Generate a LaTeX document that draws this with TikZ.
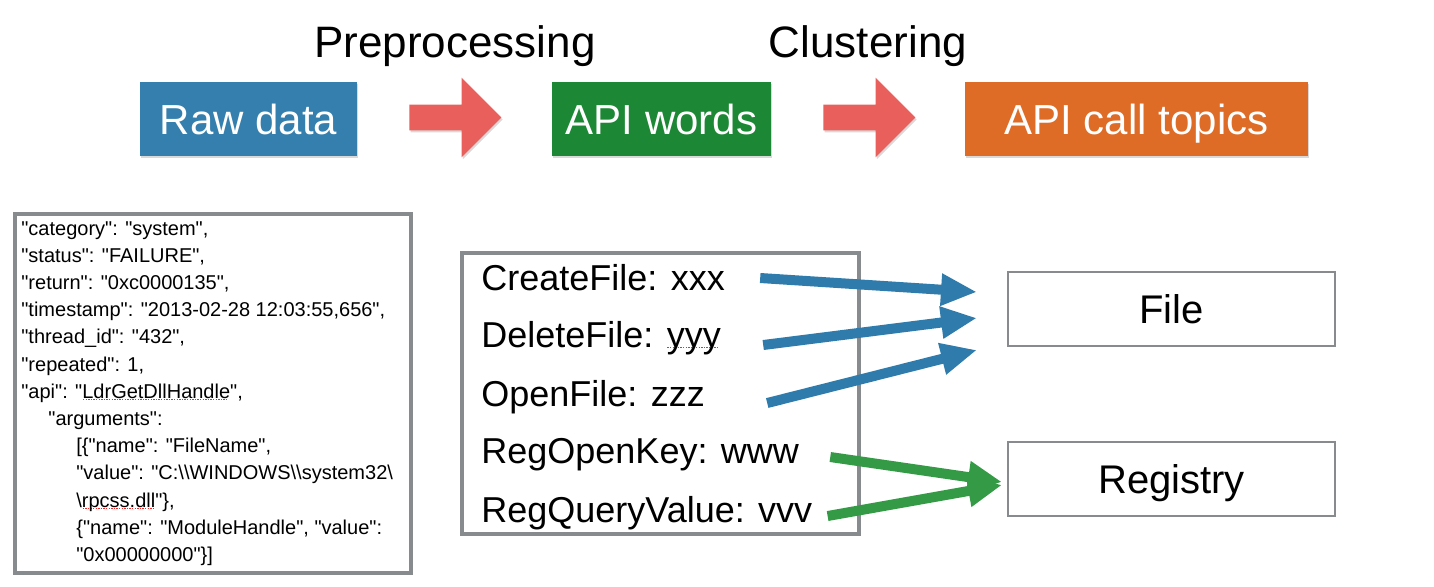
\documentclass[tikz,border=0pt]{standalone}
\usepackage{fontspec}
\setmainfont{Liberation Sans}
\newfontfamily\plainfont{Liberation Sans}
\usetikzlibrary{positioning,arrows.meta,shapes.arrows,shadows}

\definecolor{rawblue}{HTML}{347FAD}
\definecolor{wordgreen}{HTML}{1C8734}
\definecolor{topicorange}{HTML}{DE6C26}
\definecolor{stepred}{HTML}{E85F5C}
\definecolor{linkblue}{HTML}{2F7BAB}
\definecolor{linkgreen}{HTML}{349A45}
\definecolor{framegray}{HTML}{888B8D}

% dotted red spell-check mark under a word
\newsavebox\spellbox
\newcommand\spellmark[2][-1.4pt]{\sbox\spellbox{#2}\rlap{\raisebox{#1}{\textcolor{red!85}{\hbox to \wd\spellbox{\leaders\hbox to 1.3pt{\hss\rule{0.65pt}{0.5pt}\hss}\hfill}}}}\usebox\spellbox}

\begin{document}
\begin{tikzpicture}[x=0.5pt,y=-0.5pt,
  stage/.style={rectangle,inner sep=0,minimum width=#1,minimum height=37pt,text=white,
    text height=15.1pt,text depth=0pt,font=\fontsize{21}{25}\selectfont,
    drop shadow={opacity=.3,shadow xshift=.6pt,shadow yshift=-1pt}},
  stepper/.style={single arrow,fill=stepred,inner sep=6.25pt,minimum height=46pt,
    single arrow head extend=13.5pt,drop shadow={opacity=.3,shadow xshift=.6pt,shadow yshift=-1pt}},
  panel/.style={draw=framegray,line width=2pt,inner sep=0},
  topic/.style={draw=framegray,line width=1pt,minimum width=163.5pt,minimum height=37pt,
    text height=14.4pt,text depth=0pt,font=\fontsize{20}{24}\selectfont},
  apiline/.style={anchor=west,inner sep=0,font=\fontsize{18}{22}\selectfont},
  tofile/.style={draw=linkblue,line width=5pt,-{Triangle[length=18pt,width=15pt]}},
  toreg/.style={draw=linkgreen,line width=5pt,-{Triangle[length=17pt,width=15pt]}}]
  \useasboundingbox (0,0) rectangle (1434,586);

  % pipeline
  \node[stage=108.5pt,fill=rawblue] (raw) at (248.5,119) {Raw data};
  \node[stage=109.5pt,fill=wordgreen] (words) at (661.5,119) {API words};
  \node[stage=171.5pt,fill=topicorange] (topics) at (1136.5,119) {API call topics};
  \node[stepper] (pre) at (449,117.5) {};
  \node[stepper] (clu) at (863,117.5) {};
  \node[font=\fontsize{22}{26}\selectfont] (prelab) at (455,46) {Preprocessing};
  \node[font=\fontsize{22}{26}\selectfont] (clulab) at (868,46) {Clustering};

  % raw log record
  \node[panel,minimum width=198pt,minimum height=179.5pt] (json) at (213,393) {};
  \node[anchor=north west,inner sep=0,align=left,font=\plainfont\fontsize{10}{13.6}\selectfont] (record) at (21,221) {%
    "category": "system",\\
    "status": "FAILURE",\\
    "return": "0xc0000135",\\
    "timestamp": "2013-02-28 12:03:55,656",\\
    "thread\_id": "432",\\
    "repeated": 1,\\
    "api": "\spellmark[-1pt]{LdrGetDllHandle}",\\
    \hspace*{13.5pt}"arguments":\\
    \hspace*{27.5pt}[\{"name": "FileName",\\
    \hspace*{27.5pt}"value": "C:\textbackslash\textbackslash WINDOWS\textbackslash\textbackslash system32\textbackslash\\
    \hspace*{27.5pt}\textbackslash\spellmark[-1pt]{rpcss.dll}"\},\\
    \hspace*{27.5pt}\{"name": "ModuleHandle", "value":\\
    \hspace*{27.5pt}"0x00000000"\}]};

  % API words
  \node[panel,minimum width=198.5pt,minimum height=140.5pt] (list) at (660.5,393.5) {};
  \node[apiline] (cf) at (481,278) {CreateFile: xxx};
  \node[apiline] (df) at (481,338) {DeleteFile: \spellmark[-0.5pt]{yyy}};
  \node[apiline] (of) at (481,397) {OpenFile: zzz};
  \node[apiline] (rok) at (481,455) {RegOpenKey: www};
  \node[apiline] (rqv) at (481,513) {RegQueryValue: vvv};

  % topics
  \node[topic] (file) at (1171.5,309) {File};
  \node[topic] (reg) at (1171.5,479) {Registry};

  \draw[tofile] ([xshift=17.5pt]cf.east) -- ([xshift=-15pt,yshift=8.5pt]file.west);
  \draw[tofile] ([xshift=21pt,yshift=-3.5pt]df.east) -- ([xshift=-15pt,yshift=-4.5pt]file.west);
  \draw[tofile] ([xshift=31pt,yshift=-3pt]of.east) -- ([xshift=-15pt,yshift=-20.5pt]file.west);
  \draw[toreg] ([xshift=15.5pt,yshift=-1pt]rok.east) -- ([xshift=-2.5pt,yshift=-1.5pt]reg.west);
  \draw[toreg] ([xshift=7.5pt,yshift=-1.5pt]rqv.east) -- ([xshift=-2.5pt,yshift=-3pt]reg.west);
\end{tikzpicture}
\end{document}
